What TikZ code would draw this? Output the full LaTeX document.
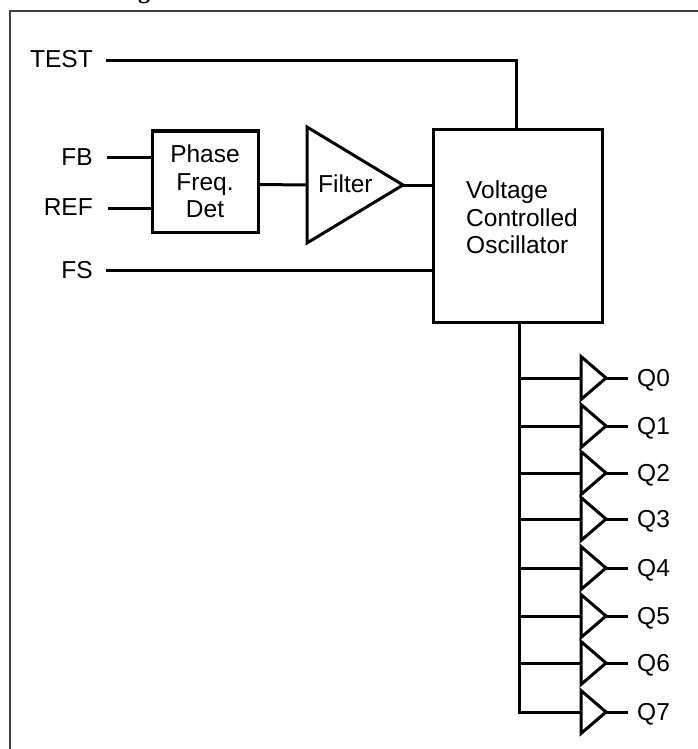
\documentclass[tikz,border=0pt]{standalone}
\usepackage{fontspec}
\setmainfont{Liberation Sans}
\newfontfamily\titlefont{Liberation Serif}
\tikzset{
  wire/.style={line width=3pt, draw=black},
  sig/.style={font=\fontsize{24.5}{27.5}\selectfont, inner sep=0pt},
  blockbox/.style={draw=black, line width=3pt, fill=white, inner sep=0pt, sig, align=center},
  amp/.style={draw=black, line width=3pt, fill=white, line join=miter},
  frameline/.style={draw=black!75, line width=1.6pt}
}
\begin{document}
\begin{tikzpicture}[x=1pt,y=-1pt]
\useasboundingbox (0,0) rectangle (698,749);
% title remnant, cut off by the top edge as in the reference
\node[font=\titlefont\bfseries\fontsize{24}{24}\selectfont, inner sep=0pt, anchor=base] (ttl) at (144,-1.5) {g};
% frame
\coordinate (ftr) at (698,11);
\coordinate (ftl) at (10,11);
\coordinate (fbl) at (10,749);
\draw[frameline] (ftr) -- (ftl) -- (fbl);
% blocks
\node[blockbox, minimum width=106pt, minimum height=101pt] (pfd) at (205,181.5) {Phase\\Freq.\\Det};
\node[blockbox, minimum width=169pt, minimum height=192pt] (vco) at (517.5,226) {};
\node[sig, align=left, anchor=west] (vcotxt) at (466,217.5) {Voltage\\Controlled\\Oscillator};
% filter
\coordinate (fa) at (307,127);
\coordinate (fb) at (307,243);
\coordinate (ft) at (403,185);
\coordinate (fi) at (307,185);
\draw[amp] (fa) -- (ft) -- (fb) -- cycle;
\node[sig, anchor=base west] (ftxt) at (318,192) {Filter};
% left labels
\node[sig, anchor=base east] (test) at (93,68) {TEST};
\node[sig, anchor=base east] (fbl2) at (93,165) {FB};
\node[sig, anchor=base east] (ref) at (93,215) {REF};
\node[sig, anchor=base east] (fs) at (93,278) {FS};
\coordinate (tests) at (106,61);
\coordinate (testc) at (516,61);
\coordinate (testv) at (516,130);
\coordinate (fbs) at (107,157);
\coordinate (fbe) at (152,157);
\coordinate (refs) at (108,208);
\coordinate (refe) at (152,208);
\coordinate (fss) at (106,270);
\coordinate (fse) at (433,270);
\coordinate (pfo) at (258,184.5);
\coordinate (vin) at (433,185);
\coordinate (vout) at (519,322);
\coordinate (bus) at (519,712);
\draw[wire, line join=miter] (tests) -- (testc) -- (testv);
\draw[wire] (fbs) -- (fbe);
\draw[wire] (refs) -- (refe);
\draw[wire] (fss) -- (fse);
\draw[wire] (pfo) -- (fi);
\draw[wire] (ft) -- (vin);
% output buffers
\foreach \i/\y in {0/378,1/426,2/473,3/519,4/568,5/616,6/663,7/712}{
  \coordinate (bi\i) at (581,\y);
  \coordinate (bt\i) at (581,\y-21.5);
  \coordinate (bb\i) at (581,\y+21.5);
  \coordinate (bo\i) at (606,\y);
  \coordinate (be\i) at (628,\y);
  \coordinate (bj\i) at (519,\y);
  \draw[amp] (bt\i) -- (bo\i) -- (bb\i) -- cycle;
  \draw[wire] (bj\i) -- (bi\i);
  \draw[wire] (bo\i) -- (be\i);
  \node[sig, anchor=base west] (q\i) at (637,\y+8.5) {Q\i};
}
\draw[wire, line join=miter] (vout) -- (bus) -- (bi7);
\end{tikzpicture}
\end{document}
